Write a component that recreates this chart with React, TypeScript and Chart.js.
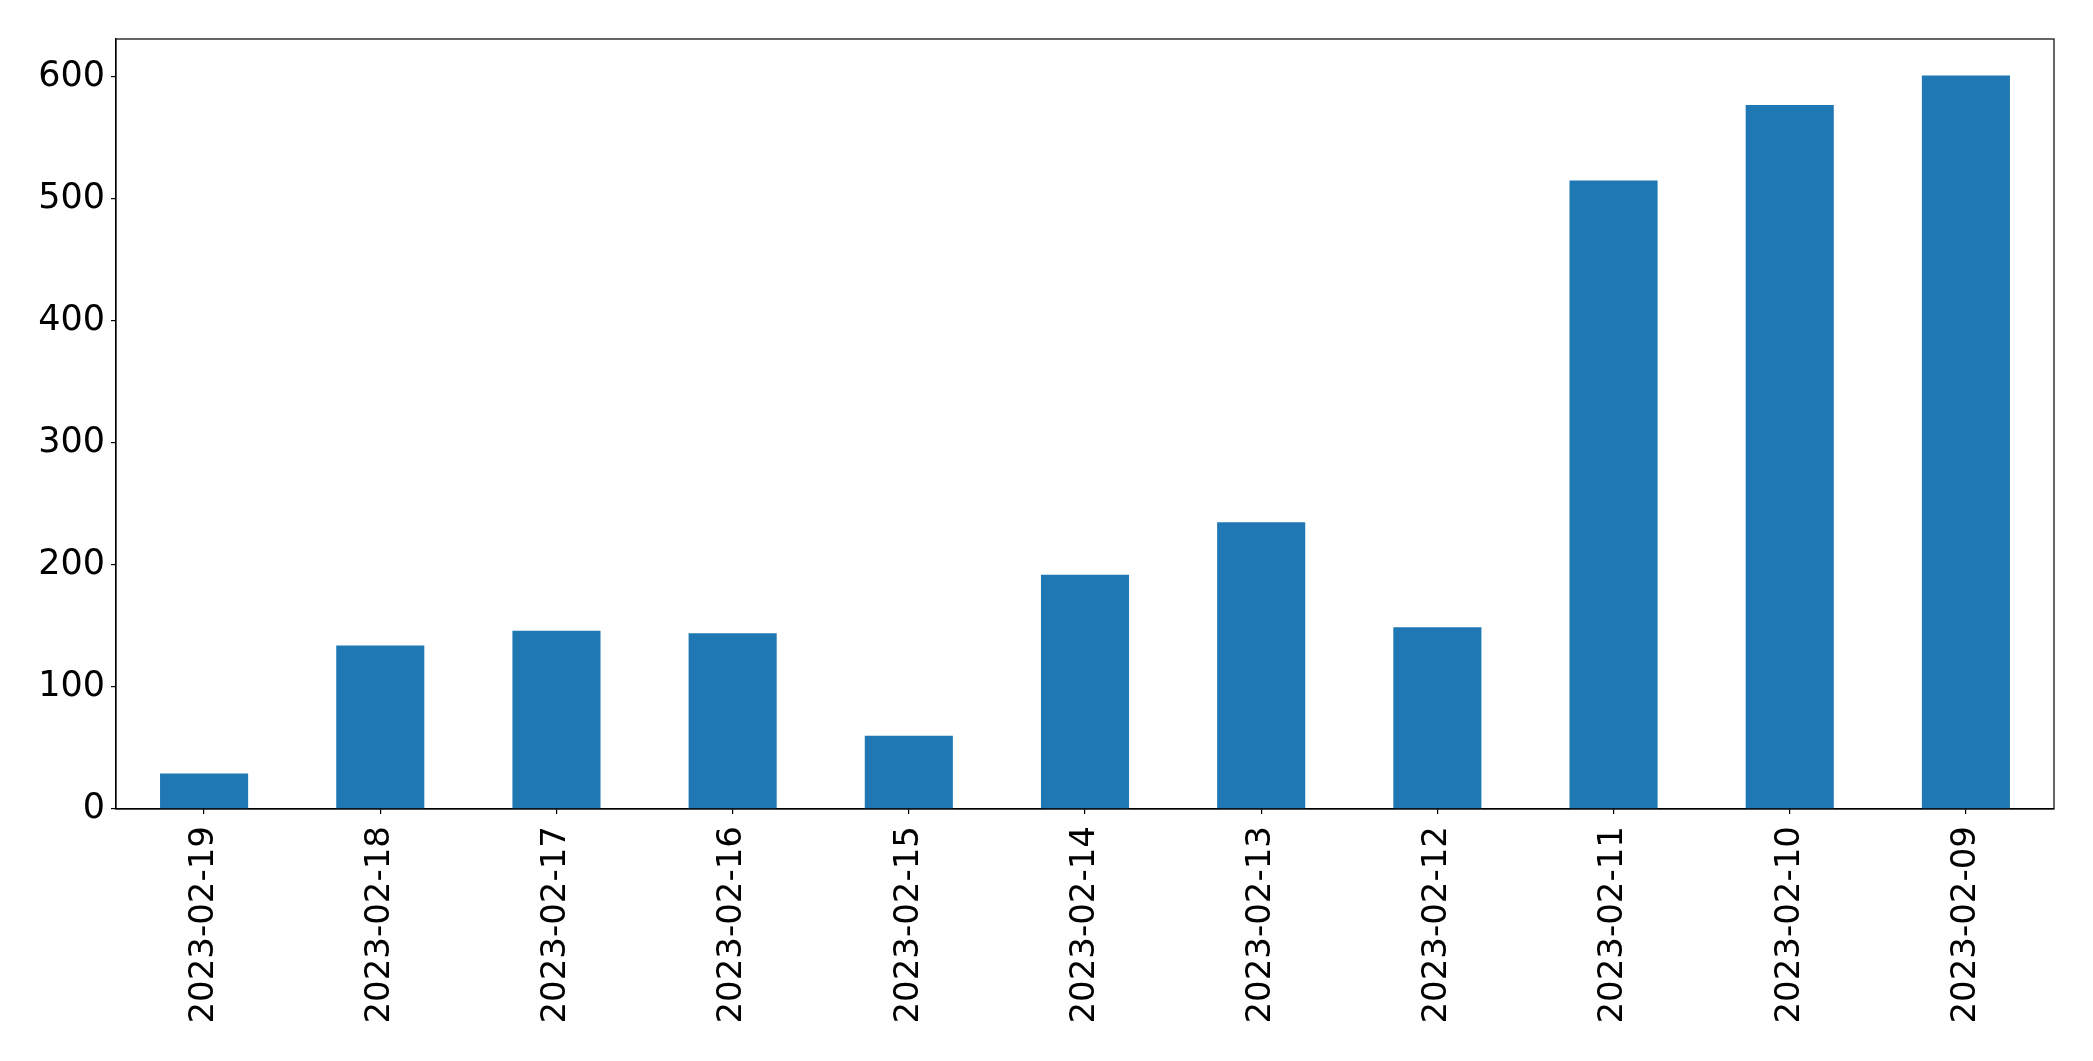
import React, { useEffect, useRef } from "react";
import { Chart, registerables } from "chart.js";

Chart.register(...registerables);

const categories = [
  "2023-02-19",
  "2023-02-18",
  "2023-02-17",
  "2023-02-16",
  "2023-02-15",
  "2023-02-14",
  "2023-02-13",
  "2023-02-12",
  "2023-02-11",
  "2023-02-10",
  "2023-02-09",
];
const values = [29, 134, 146, 144, 60, 192, 235, 149, 515, 577, 601];
const yTicks = [0, 100, 200, 300, 400, 500, 600];
const yMax = 631;

const W = 2093;
const H = 1061;

const frame = {
  id: "frame",
  afterDraw(chart: any) {
    const { ctx, chartArea } = chart;
    ctx.save();
    ctx.strokeStyle = "#000";
    ctx.lineWidth = 1.2;
    ctx.strokeRect(chartArea.left, chartArea.top, chartArea.right - chartArea.left, chartArea.bottom - chartArea.top);
    ctx.restore();
  },
};

export default function App() {
  const ref = useRef<HTMLCanvasElement | null>(null);
  useEffect(() => {
    document.body.style.margin = "0";
    const xFont = { family: "'DejaVu Sans'", size: 34 };
    const yFont = { family: "'DejaVu Sans'", size: 35 };
    const chart = new Chart(ref.current!, {
      type: "bar",
      data: {
        labels: categories,
        datasets: [
          {
            data: values,
            backgroundColor: "#1f77b4",
            barPercentage: 0.5,
            categoryPercentage: 1,
          },
        ],
      },
      options: {
        responsive: false,
        animation: false,
        layout: { padding: { left: 0, top: 39, right: 39, bottom: 0 } },
        plugins: { legend: { display: false }, tooltip: { enabled: false } },
        scales: {
          x: {
            offset: true,
            grid: { offset: false, drawOnChartArea: false, drawTicks: true, tickLength: 5, color: "#000", lineWidth: 1.2 },
            border: { display: true, color: "#000", width: 1.2 },
            ticks: { color: "#000", font: xFont, minRotation: 90, maxRotation: 90, padding: 12, autoSkip: false },
            afterFit(axis: any) {
              axis.height = 252;
            },
          },
          y: {
            min: 0,
            max: yMax,
            bounds: "data",
            grid: { drawOnChartArea: false, drawTicks: true, tickLength: 5, color: "#000", lineWidth: 1.2 },
            border: { display: true, color: "#000", width: 1.2 },
            ticks: { color: "#000", font: yFont, padding: 6 },
            afterBuildTicks(axis: any) {
              axis.ticks = yTicks.map((v) => ({ value: v }));
            },
            afterFit(axis: any) {
              axis.width = 116;
            },
          },
        },
      },
      plugins: [frame],
    });
    return () => chart.destroy();
  }, []);
  return <canvas ref={ref} width={W} height={H} style={{ display: "block", width: W, height: H }} />;
}
